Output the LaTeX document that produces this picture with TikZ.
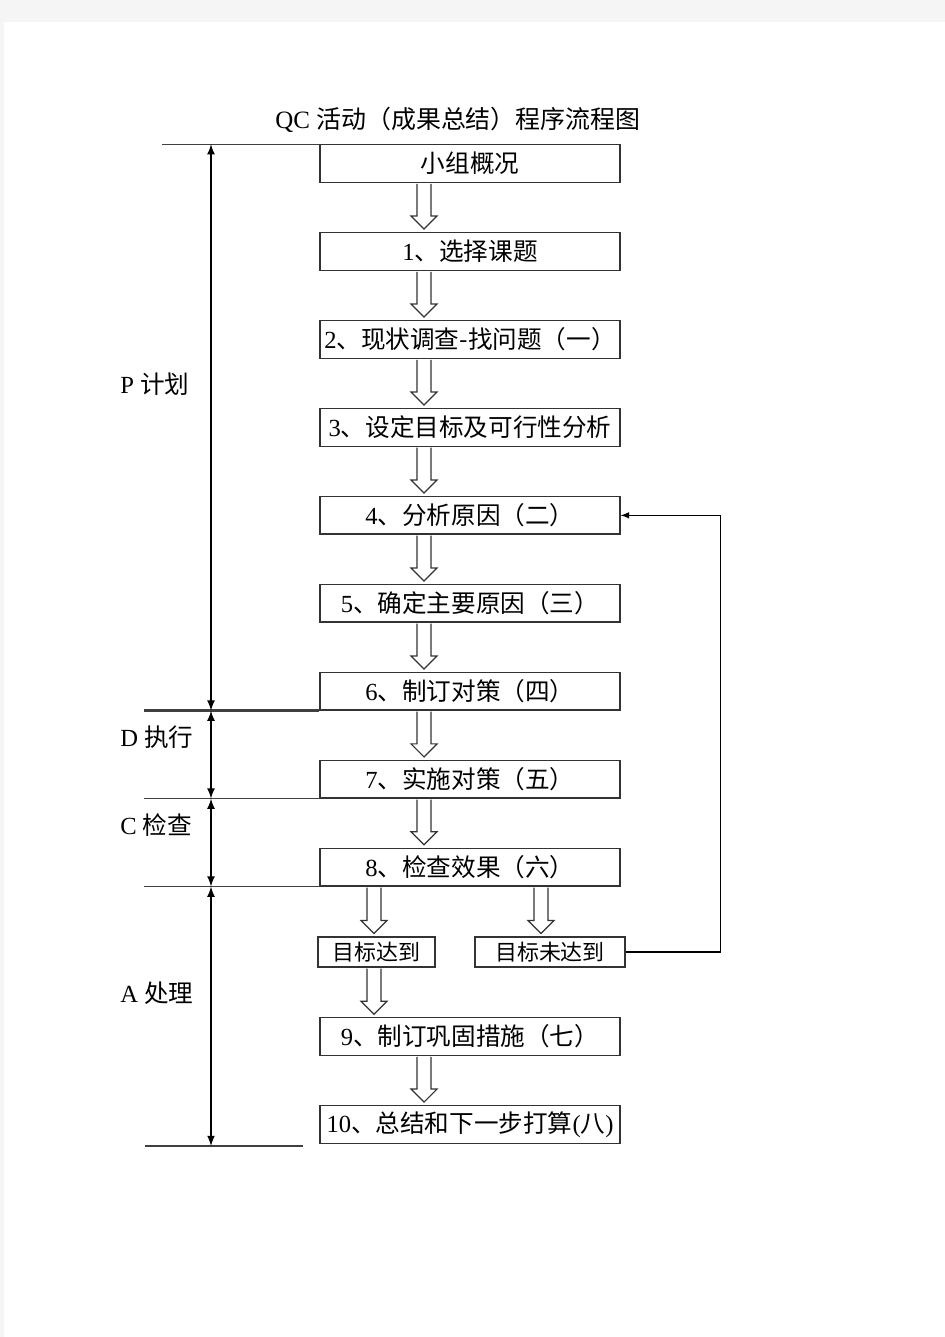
\documentclass[tikz,border=0pt]{standalone}
\usepackage{fontspec}
\setmainfont{Liberation Serif}
\newfontfamily\cjk{Noto Sans CJK SC}
\usepackage{tikz}
\usetikzlibrary{arrows,positioning,calc}

\newcommand{\zh}[1]{{\cjk #1}}
\newcommand{\fatarrow}[3]{%
  \path (#1.south -| #3) coordinate (fa) (#2.north -| #3) coordinate (fb);
  \draw[hollow] ($(fa)+(-7,1)$) -- ($(fb)+(-7,-16)$) -- ($(fb)+(-13,-16)$) -- ($(fb)+(0,-3)$)
    -- ($(fb)+(13,-16)$) -- ($(fb)+(7,-16)$) -- ($(fa)+(7,1)$);}

\begin{document}
\begin{tikzpicture}[x=0.02cm,y=-0.02cm,>=latex,node distance=0.985cm,
    box/.style={draw=black!80,line width=0.7pt,minimum width=6cm,minimum height=0.75cm,inner sep=0pt,font=\fontsize{14}{16}\selectfont},
    small/.style={box,minimum height=0.6cm,font=\fontsize{12.5}{14}\selectfont},
    hollow/.style={draw=black!80,line width=0.7pt,fill=white},
    rule/.style={draw=black!75,line width=0.6pt},
    span/.style={<->,line width=1pt},
    phase/.style={anchor=west,inner sep=0pt,font=\fontsize{14}{16}\selectfont}]

    \fill[black!4] (0,0) rectangle (945,1337);
    \fill[white] (4,22) rectangle (945,1337);

    \node[font=\fontsize{14.2}{16}\selectfont] (title) at (458,120) {QC \zh{活动（成果总结）程序流程图}};

    \node[box] (g0) at (470,163.5)   {\zh{小组概况}};
    \node[box] (s1) [below=of g0]    {1\zh{、选择课题}};
    \node[box] (s2) [below=of s1]    {2\zh{、现状调查-找问题（一）}};
    \node[box] (s3) [below=of s2]    {3\zh{、设定目标及可行性分析}};
    \node[box] (s4) [below=of s3]    {4\zh{、分析原因（二）}};
    \node[box] (s5) [below=of s4]    {5\zh{、确定主要原因（三）}};
    \node[box] (s6) [below=of s5]    {6\zh{、制订对策（四）}};
    \node[box] (s7) [below=of s6]    {7\zh{、实施对策（五）}};
    \node[box] (s8) [below=of s7]    {8\zh{、检查效果（六）}};
    \node[small,minimum width=2.34cm] (ok)  at (376.5,952) {\zh{目标达到}};
    \node[small,minimum width=3cm]    (nok) at (550,952)   {\zh{目标未达到}};
    \node[box] (s9) at (470,1036.5)  {9\zh{、制订巩固措施（七）}};
    \node[box] (s10) [below=of s9]   {10\zh{、总结和下一步打算}(\zh{八})};

    \coordinate (cm) at (424,0);
    \coordinate (cl) at (374,0);
    \coordinate (cr) at (541,0);
    \foreach \a/\b in {g0/s1,s1/s2,s2/s3,s3/s4,s4/s5,s5/s6,s6/s7,s7/s8,s9/s10}
        \fatarrow{\a}{\b}{cm};
    \fatarrow{s8}{ok}{cl}
    \fatarrow{s8}{nok}{cr}
    \fatarrow{ok}{s9}{cl}

    \draw[->,line width=0.7pt] (nok.east) -- ++(95,0) |- (s4.east);

    \coordinate (axis) at (211,0);
    \coordinate (m0) at (g0.north west -| axis);
    \coordinate (m1) at (s6.south west -| axis);
    \coordinate (m2) at (s7.south west -| axis);
    \coordinate (m3) at (s8.south west -| axis);
    \coordinate (m4) at (211,1146);

    \draw[rule] (g0.north west) -- ++(-157,0);
    \draw[rule,line width=1.3pt] (s6.south west) -- ++(-175,0);
    \draw[rule] (s7.south west) -- ++(-175,0);
    \draw[rule] (s8.south west) -- ++(-175,0);
    \draw[rule] (m4) -- ++(-66,0) (m4) -- ++(92,0);

    \draw[span] (m0) -- (m1);
    \draw[span] (m1) -- (m2);
    \draw[span] (m2) -- (m3);
    \draw[span] (m3) -- (m4);

    \node[phase] (lp) at (120,384) {P \zh{计划}};
    \node[phase] (ld) at (120,737) {D \zh{执行}};
    \node[phase] (lc) at (120,825) {C \zh{检查}};
    \node[phase] (la) at (120,993) {A \zh{处理}};

\end{tikzpicture}
\end{document}
